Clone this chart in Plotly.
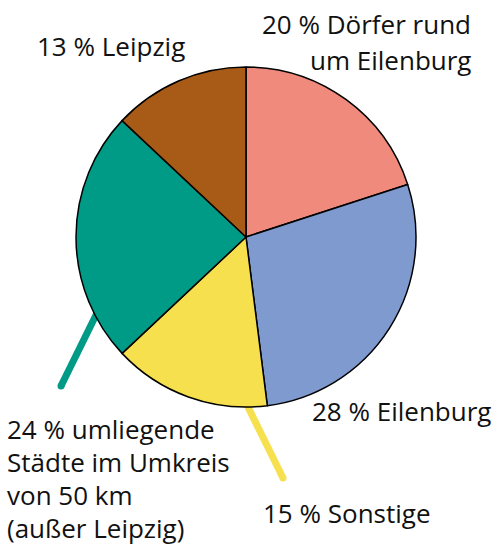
import plotly.graph_objects as go

W, H = 493, 547

labels = ["Dörfer rund um Eilenburg", "Eilenburg", "Sonstige",
          "umliegende Städte im Umkreis von 50 km (außer Leipzig)", "Leipzig"]
values = [20, 28, 15, 24, 13]
colors = ["#EF8A7C", "#7F9ACE", "#F7E04E", "#009B87", "#A85A17"]

# label texts (lines)
lbl_leipzig = ["13 % Leipzig"]
lbl_doerfer = ["20 % Dörfer rund", "um Eilenburg"]
lbl_eilenburg = ["28 % Eilenburg"]
lbl_sonstige = ["15 % Sonstige"]
lbl_staedte = ["24 % umliegende", "Städte im Umkreis", "von 50 km", "(außer Leipzig)"]

cx, cy, r = 246, 237, 170

fig = go.Figure()

# leader lines (pixel coordinates on hidden full-page axes)
leaders = [((97, 313), (61, 386), "#009B87"), ((247, 405), (283, 478), "#F7E04E")]
for (x0, y0), (x1, y1), c in leaders:
    fig.add_trace(go.Scatter(x=[x0, x1], y=[y0, y1], mode="lines+markers",
                             line=dict(color=c, width=7),
                             marker=dict(color=c, size=7),
                             hoverinfo="skip", showlegend=False))

fig.add_trace(go.Pie(
    labels=labels, values=values, sort=False, direction="clockwise", rotation=0,
    marker=dict(colors=colors, line=dict(color="black", width=1.5)),
    textinfo="none", hoverinfo="label+value", showlegend=False,
    domain=dict(x=[(cx - r) / W, (cx + r) / W],
                y=[(H - cy - r) / H, (H - cy + r) / H]),
))

font = dict(family="Open Sans, sans-serif", size=26, color="#111111")
ann = []

def add_lines(lines, x, y0, anchor, step=34):
    for i, t in enumerate(lines):
        ann.append(dict(x=x, y=y0 + i * step, xref="x", yref="y", text=t,
                        showarrow=False, xanchor=anchor, yanchor="middle",
                        borderpad=0, font=font))

add_lines(lbl_leipzig, 36, 46, "left")
add_lines(lbl_doerfer, 472, 24, "right", 36)
add_lines(lbl_eilenburg, 492, 411, "right")
add_lines(lbl_sonstige, 262, 513, "left")
add_lines(lbl_staedte, 6, 429, "left", 33)

fig.update_layout(
    width=W, height=H, margin=dict(l=0, r=0, t=0, b=0),
    paper_bgcolor="white", plot_bgcolor="white",
    xaxis=dict(range=[0, W], visible=False, domain=[0, 1], fixedrange=True),
    yaxis=dict(range=[H, 0], visible=False, domain=[0, 1], fixedrange=True),
    annotations=ann,
)

fig.write_html("out.html", config={"displayModeBar": False},
               post_script="document.body.style.margin='0';")
